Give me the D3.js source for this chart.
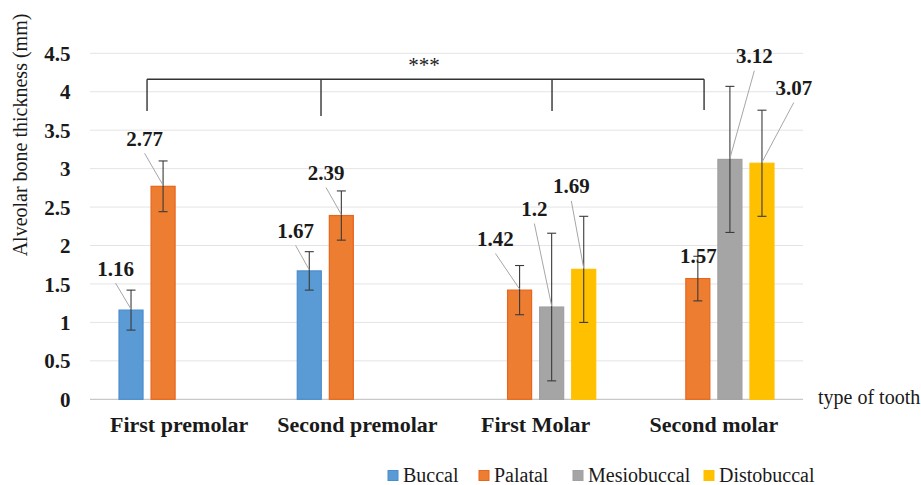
<!DOCTYPE html>
<html>
<head>
<meta charset="utf-8">
<script src="https://cdn.jsdelivr.net/npm/d3@7/dist/d3.min.js"></script>
<style>
  html, body { margin: 0; padding: 0; background: #fff; }
  svg { display: block; }
  text { font-family: "Liberation Serif", "Times New Roman", serif; fill: #1a1a1a; }
</style>
</head>
<body>
<svg id="chart" width="921" height="485"></svg>
<script>
// ---------- DATA ----------
const categories = ["First premolar", "Second premolar", "First Molar", "Second molar"];
const seriesNames = ["Buccal", "Palatal", "Mesiobuccal", "Distobuccal"];
const buccal      = [1.16, 1.67, null, null];
const palatal     = [2.77, 2.39, 1.42, 1.57];
const mesiobuccal = [null, null, 1.20, 3.12];
const distobuccal = [null, null, 1.69, 3.07];
const buccalSD      = [0.26, 0.25, null, null];
const palatalSD     = [0.33, 0.32, 0.32, 0.29];
const mesiobuccalSD = [null, null, 0.96, 0.95];
const distobuccalSD = [null, null, 0.69, 0.69];
const yTicks = [0, 0.5, 1, 1.5, 2, 2.5, 3, 3.5, 4, 4.5];
const significance = "***";

// ---------- LAYOUT / STYLE ----------
const W = 921, H = 485;
const plot = { left: 90, right: 803, top: 53.3, bottom: 399.3 };
const colors = {
  Buccal:      { fill: "#5B9BD5", stroke: "#4A8DCD" },
  Palatal:     { fill: "#ED7D31", stroke: "#E8661C" },
  Mesiobuccal: { fill: "#A5A5A5", stroke: "#A0A0A0" },
  Distobuccal: { fill: "#FFC000", stroke: "#FFC000" }
};
// label offsets from bar top centre (dx, dy to baseline), per series per category
const labelOffsets = {
  Buccal:      [[-15.5, -34.5], [-13.7, -33], null, null],
  Palatal:     [[-18.5, -40.5], [-15.3, -35.5], [-24.1, -44.1], [0.5, -15.3]],
  Mesiobuccal: [null, null, [-17.3, -91], [24.4, -96.1]],
  Distobuccal: [null, null, [-12.4, -76], [31.8, -68.2]]
};
// bracket anchor positions as fraction of category step, and tick bottom y
const bracketAnchors = [[0, 0.32, 111], [1, 0.296, 116], [2, 0.592, 111], [3, 0.445, 110]];
const bracketY = 79.3;
const legendX = [388, 479, 573, 704];

const values = { Buccal: buccal, Palatal: palatal, Mesiobuccal: mesiobuccal, Distobuccal: distobuccal };
const sds = { Buccal: buccalSD, Palatal: palatalSD, Mesiobuccal: mesiobuccalSD, Distobuccal: distobuccalSD };

const svg = d3.select("#chart");

const y = d3.scaleLinear().domain([0, 4.5]).range([plot.bottom, plot.top]);
const x0 = d3.scaleBand().domain(categories).range([plot.left, plot.right])
  .paddingInner(0.32).paddingOuter(0.16);
const x1 = d3.scaleBand().domain(seriesNames).range([0, x0.bandwidth()])
  .paddingInner(0.22).paddingOuter(0);
const step = x0.step();

// gridlines
svg.append("g").selectAll("line").data(yTicks.filter(t => t > 0)).join("line")
  .attr("x1", plot.left).attr("x2", plot.right)
  .attr("y1", d => y(d)).attr("y2", d => y(d))
  .attr("stroke", "#E4E4E4").attr("stroke-width", 1);

// y axis labels
const yAxis = d3.axisLeft(y).tickValues(yTicks).tickSize(0).tickPadding(0)
  .tickFormat(d => d3.format("")(d));
const yg = svg.append("g").attr("transform", `translate(${plot.left - 19.5},0)`).call(yAxis);
yg.select(".domain").remove();
yg.selectAll("text").attr("font-family", "Liberation Serif, serif")
  .attr("font-size", 21).attr("font-weight", "bold").attr("fill", "#1a1a1a")
  .attr("dy", "0.34em");

// x axis line
svg.append("line").attr("x1", plot.left).attr("x2", plot.right)
  .attr("y1", y(0)).attr("y2", y(0)).attr("stroke", "#C8C8C8").attr("stroke-width", 1.2);

// x axis labels
const xAxis = d3.axisBottom(x0).tickSize(0).tickPadding(0);
const xg = svg.append("g").attr("transform", `translate(0,${plot.bottom})`).call(xAxis);
xg.select(".domain").remove();
xg.selectAll("text").attr("font-family", "Liberation Serif, serif")
  .attr("font-size", 22).attr("font-weight", "bold").attr("fill", "#1a1a1a")
  .attr("dy", null).attr("y", 32.4);

// flatten bars
const bars = [];
categories.forEach((c, ci) => {
  seriesNames.forEach(s => {
    const v = values[s][ci];
    if (v != null) bars.push({ cat: c, ci, series: s, value: v, sd: sds[s][ci], off: labelOffsets[s][ci] });
  });
});

const gBars = svg.append("g");
gBars.selectAll("rect").data(bars).join("rect")
  .attr("x", d => x0(d.cat) + x1(d.series) + 0.5)
  .attr("y", d => y(d.value))
  .attr("width", x1.bandwidth() - 1)
  .attr("height", d => y(0) - y(d.value))
  .attr("fill", d => colors[d.series].fill)
  .attr("stroke", d => colors[d.series].stroke).attr("stroke-width", 1.2);

// error bars
const gErr = svg.append("g").attr("stroke", "#3a3a3a").attr("stroke-width", 1.1);
bars.forEach(d => {
  const cx = x0(d.cat) + x1(d.series) + x1.bandwidth() / 2;
  const yt = y(d.value + d.sd), yb = y(d.value - d.sd);
  gErr.append("line").attr("x1", cx).attr("x2", cx).attr("y1", yt).attr("y2", yb);
  gErr.append("line").attr("x1", cx - 4.5).attr("x2", cx + 4.5).attr("y1", yt).attr("y2", yt);
  gErr.append("line").attr("x1", cx - 4.5).attr("x2", cx + 4.5).attr("y1", yb).attr("y2", yb);
});

// labels + leader lines
const gLab = svg.append("g");
bars.forEach(d => {
  const cx = x0(d.cat) + x1(d.series) + x1.bandwidth() / 2;
  const cy = y(d.value);
  const lx = cx + d.off[0], ly = cy + d.off[1];
  const dist = Math.hypot(d.off[0], d.off[1]);
  if (dist > 25) {
    gLab.append("line").attr("x1", lx).attr("y1", ly + 7.5).attr("x2", cx).attr("y2", cy - 1)
      .attr("stroke", "#A6A6A6").attr("stroke-width", 1);
  }
  gLab.append("text").attr("x", lx).attr("y", ly).attr("text-anchor", "middle")
    .attr("font-size", 21).attr("font-weight", "bold").text(d.value);
});

// significance bracket
const bx = bracketAnchors.map(([ci, f]) => x0(categories[ci]) - x0.paddingOuter() * step + f * step);
const gBr = svg.append("g").attr("stroke", "#333").attr("stroke-width", 1.4).attr("fill", "none");
gBr.append("line").attr("x1", bx[0]).attr("x2", bx[bx.length - 1]).attr("y1", bracketY).attr("y2", bracketY);
bracketAnchors.forEach(([ci, f, yb], i) => {
  gBr.append("line").attr("x1", bx[i]).attr("x2", bx[i]).attr("y1", bracketY).attr("y2", yb);
});
svg.append("text").attr("x", 424).attr("y", 72).attr("text-anchor", "middle")
  .attr("font-size", 21).text(significance);

// axis titles
svg.append("text").attr("transform", `translate(20,135) rotate(-90)`)
  .attr("text-anchor", "middle").attr("dominant-baseline", "central")
  .attr("font-size", 20).text("Alveolar bone thickness (mm)");
svg.append("text").attr("x", 818).attr("y", 404).attr("font-size", 20).text("type of tooth");

// legend
const gLeg = svg.append("g");
seriesNames.forEach((s, i) => {
  const lx = legendX[i];
  gLeg.append("rect").attr("x", lx).attr("y", 470.5).attr("width", 10).attr("height", 10)
    .attr("fill", colors[s].fill).attr("stroke", colors[s].stroke).attr("stroke-width", 1);
  gLeg.append("text").attr("x", lx + 15).attr("y", 482).attr("font-size", 20).text(s);
});
</script>
</body>
</html>
